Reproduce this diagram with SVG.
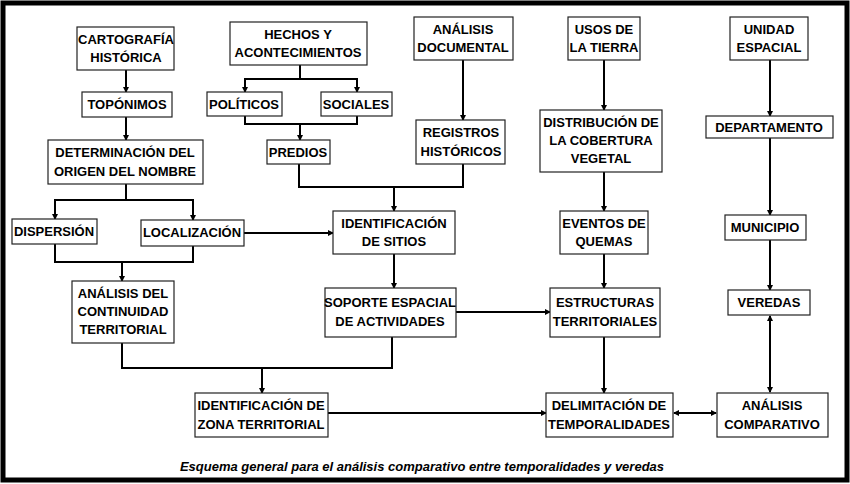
<svg xmlns="http://www.w3.org/2000/svg" width="850" height="484" viewBox="0 0 850 484">
<style>
.b{fill:#fff;stroke:#222;stroke-width:1.2}
.t{font-family:"Liberation Sans",Arial,sans-serif;font-weight:bold;font-size:13px;fill:#000;text-anchor:middle}
.c{fill:none;stroke:#000;stroke-width:2}
.cap{font-family:"Liberation Sans",Arial,sans-serif;font-weight:bold;font-style:italic;font-size:13px;text-anchor:middle}
</style>
<defs>
<marker id="a" markerWidth="6" markerHeight="6" refX="5" refY="3" orient="auto" markerUnits="userSpaceOnUse"><path d="M0,0L6,3L0,6z" fill="#000"/></marker>
<marker id="s" markerWidth="6" markerHeight="6" refX="1" refY="3" orient="auto" markerUnits="userSpaceOnUse"><path d="M6,0L0,3L6,6z" fill="#000"/></marker>
</defs>
<rect x="0" y="0" width="850" height="484" fill="#fff"/>
<rect x="3" y="3" width="844" height="477" fill="none" stroke="#000" stroke-width="5"/>
<g id="connectors">
<path class="c" d="M126,70V92" marker-end="url(#a)"/>
<path class="c" d="M126,117V140" marker-end="url(#a)"/>
<path class="c" d="M126,184V200M55,219V200H193V220" />
<path class="c" d="M55,200V219" marker-end="url(#a)"/>
<path class="c" d="M193,200V220" marker-end="url(#a)"/>
<path class="c" d="M300,65V79M245,92V79H357V92"/>
<path class="c" d="M245,79V92" marker-end="url(#a)"/>
<path class="c" d="M357,79V92" marker-end="url(#a)"/>
<path class="c" d="M245,116V124H357V116M300,124V140" />
<path class="c" d="M300,124V140" marker-end="url(#a)"/>
<path class="c" d="M463,60V120" marker-end="url(#a)"/>
<path class="c" d="M299,164V187H463V164"/>
<path class="c" d="M394,187V211" marker-end="url(#a)"/>
<path class="c" d="M244,233H333" marker-end="url(#a)"/>
<path class="c" d="M55,244V262H193V246"/>
<path class="c" d="M122,262V281" marker-end="url(#a)"/>
<path class="c" d="M394,254V288" marker-end="url(#a)"/>
<path class="c" d="M456,312H550" marker-end="url(#a)"/>
<path class="c" d="M122,343V368H392V337"/>
<path class="c" d="M262,368V393" marker-end="url(#a)"/>
<path class="c" d="M328,413H546" marker-end="url(#a)"/>
<path class="c" d="M604,60V110" marker-end="url(#a)"/>
<path class="c" d="M604,172V211" marker-end="url(#a)"/>
<path class="c" d="M604,254V288" marker-end="url(#a)"/>
<path class="c" d="M604,337V393" marker-end="url(#a)"/>
<path class="c" d="M770,60V116" marker-end="url(#a)"/>
<path class="c" d="M770,138V215" marker-end="url(#a)"/>
<path class="c" d="M770,240V290" marker-end="url(#a)"/>
<path class="c" d="M770,392V316" marker-start="url(#s)" marker-end="url(#a)"/>
<path class="c" d="M674,413H716" marker-start="url(#s)" marker-end="url(#a)"/>
</g>
<g id="n1"><rect class="b" x="77" y="27" width="97" height="43"/><text class="t" x="126" y="44">CARTOGRAFÍA</text><text class="t" x="126" y="62">HISTÓRICA</text></g>
<g id="n2"><rect class="b" x="230" y="22" width="137" height="43"/><text class="t" x="298" y="39">HECHOS Y</text><text class="t" x="298" y="57">ACONTECIMIENTOS</text></g>
<g id="n3"><rect class="b" x="414" y="17" width="99" height="43"/><text class="t" x="463" y="34">ANÁLISIS</text><text class="t" x="463" y="52">DOCUMENTAL</text></g>
<g id="n4"><rect class="b" x="568" y="17" width="72" height="43"/><text class="t" x="604" y="34">USOS DE</text><text class="t" x="604" y="52">LA TIERRA</text></g>
<g id="n5"><rect class="b" x="730" y="17" width="78" height="43"/><text class="t" x="769" y="34">UNIDAD</text><text class="t" x="769" y="52">ESPACIAL</text></g>
<g id="n6"><rect class="b" x="82" y="92" width="90" height="25"/><text class="t" x="127" y="109">TOPÓNIMOS</text></g>
<g id="n7"><rect class="b" x="207" y="92" width="75" height="24"/><text class="t" x="244" y="109">POLÍTICOS</text></g>
<g id="n8"><rect class="b" x="321" y="92" width="71" height="24"/><text class="t" x="356" y="109">SOCIALES</text></g>
<g id="n9"><rect class="b" x="267" y="140" width="63" height="24"/><text class="t" x="298" y="157">PREDIOS</text></g>
<g id="n10"><rect class="b" x="416" y="120" width="89" height="44"/><text class="t" x="461" y="137">REGISTROS</text><text class="t" x="461" y="156">HISTÓRICOS</text></g>
<g id="n11"><rect class="b" x="540" y="110" width="122" height="62"/><text class="t" x="601" y="127">DISTRIBUCIÓN DE</text><text class="t" x="601" y="145">LA COBERTURA</text><text class="t" x="601" y="163">VEGETAL</text></g>
<g id="n12"><rect class="b" x="706" y="116" width="127" height="22"/><text class="t" x="769" y="132">DEPARTAMENTO</text></g>
<g id="n13"><rect class="b" x="48" y="140" width="155" height="44"/><text class="t" x="125" y="157">DETERMINACIÓN DEL</text><text class="t" x="125" y="176">ORIGEN DEL NOMBRE</text></g>
<g id="n14"><rect class="b" x="12" y="219" width="85" height="25"/><text class="t" x="54" y="236">DISPERSIÓN</text></g>
<g id="n15"><rect class="b" x="141" y="220" width="103" height="26"/><text class="t" x="192" y="237">LOCALIZACIÓN</text></g>
<g id="n16"><rect class="b" x="333" y="211" width="122" height="43"/><text class="t" x="394" y="228">IDENTIFICACIÓN</text><text class="t" x="394" y="246">DE SITIOS</text></g>
<g id="n17"><rect class="b" x="560" y="211" width="88" height="43"/><text class="t" x="604" y="228">EVENTOS DE</text><text class="t" x="604" y="246">QUEMAS</text></g>
<g id="n18"><rect class="b" x="725" y="215" width="81" height="25"/><text class="t" x="765" y="232">MUNICIPIO</text></g>
<g id="n19"><rect class="b" x="72" y="281" width="102" height="62"/><text class="t" x="123" y="298">ANÁLISIS DEL</text><text class="t" x="123" y="316">CONTINUIDAD</text><text class="t" x="123" y="334">TERRITORIAL</text></g>
<g id="n20"><rect class="b" x="325" y="288" width="131" height="49"/><text class="t" x="390" y="307">SOPORTE ESPACIAL</text><text class="t" x="390" y="326">DE ACTIVIDADES</text></g>
<g id="n21"><rect class="b" x="550" y="288" width="110" height="49"/><text class="t" x="605" y="307">ESTRUCTURAS</text><text class="t" x="605" y="326">TERRITORIALES</text></g>
<g id="n22"><rect class="b" x="728" y="290" width="82" height="25"/><text class="t" x="769" y="307">VEREDAS</text></g>
<g id="n23"><rect class="b" x="195" y="393" width="133" height="44"/><text class="t" x="261" y="410">IDENTIFICACIÓN DE</text><text class="t" x="261" y="429">ZONA TERRITORIAL</text></g>
<g id="n24"><rect class="b" x="546" y="393" width="127" height="44"/><text class="t" x="609" y="410">DELIMITACIÓN DE</text><text class="t" x="609" y="429">TEMPORALIDADES</text></g>
<g id="n25"><rect class="b" x="717" y="393" width="111" height="44"/><text class="t" x="772" y="410">ANÁLISIS</text><text class="t" x="772" y="429">COMPARATIVO</text></g>
<text class="cap" x="422" y="471">Esquema general para el análisis comparativo entre temporalidades y veredas</text>
</svg>
